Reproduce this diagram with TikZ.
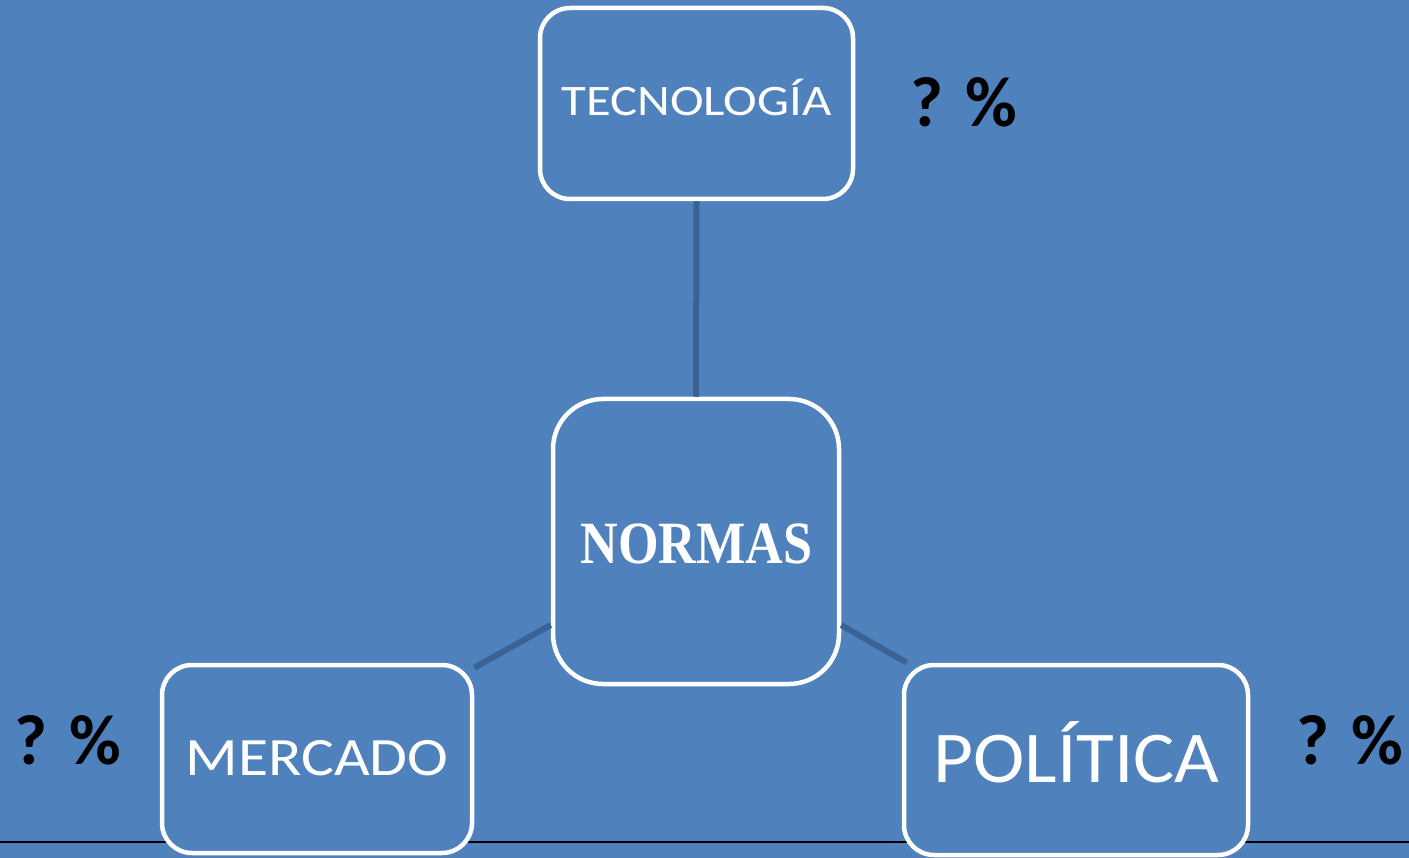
\documentclass[tikz,border=0pt]{standalone}
\usepackage{fontspec}
\setmainfont{Carlito}
\newfontfamily\normasfont{Liberation Serif}
\definecolor{bg}{HTML}{4F81BD}
\definecolor{conn}{HTML}{3A6394}
\begin{document}
\begin{tikzpicture}[x=1pt,y=-1pt,
  box/.style={draw=white,line width=4.5pt,fill=bg,rounded corners=30pt,inner sep=0pt},
  lbl/.style={text=white,inner sep=0pt,anchor=base},
  link/.style={draw=conn,line width=6pt},
  pct/.style={font=\fontsize{71}{71}\selectfont\bfseries,text=black,inner sep=0pt}]
\fill[bg] (0,0) rectangle (1409,858);
\useasboundingbox (0,0) rectangle (1409,858);
\draw[black,line width=1.2pt] (0,842) -- (1409,842);
\node[box,minimum width=313pt,minimum height=191pt] (tec) at (696.5,103.5) {};
\node[box,rounded corners=50pt,minimum width=286pt,minimum height=285pt] (nor) at (696,541.5) {};
\node[box,minimum width=310pt,minimum height=188pt] (mer) at (317,759) {};
\node[box,minimum width=344pt,minimum height=190pt] (pol) at (1076,760) {};
\node[lbl,xscale=1.166,font=\fontsize{43.5}{43.5}\selectfont] (tect) at (696.5,116) {TECNOLOGÍA};
\node[lbl,xscale=0.87,font=\fontsize{60}{60}\selectfont\normasfont\bfseries] (nort) at (696.5,563) {NORMAS};
\node[lbl,xscale=1.14,font=\fontsize{54}{54}\selectfont] (mert) at (317,775) {MERCADO};
\node[lbl,xscale=1.06,font=\fontsize{73}{73}\selectfont] (polt) at (1076.5,782) {POLÍTICA};
\draw[link] (tec.south) -- (nor.north);
\draw[link] ([yshift=-83.5pt]nor.west) -- ([yshift=-5pt]mer.north east);
\draw[link] ([yshift=-83.5pt]nor.east) -- ([xshift=5pt]pol.north west);
\node[pct] (p1) at (964,102) {? \%};
\node[pct] (p2) at (68,740) {? \%};
\node[pct] (p3) at (1350,740) {? \%};
\end{tikzpicture}
\end{document}
